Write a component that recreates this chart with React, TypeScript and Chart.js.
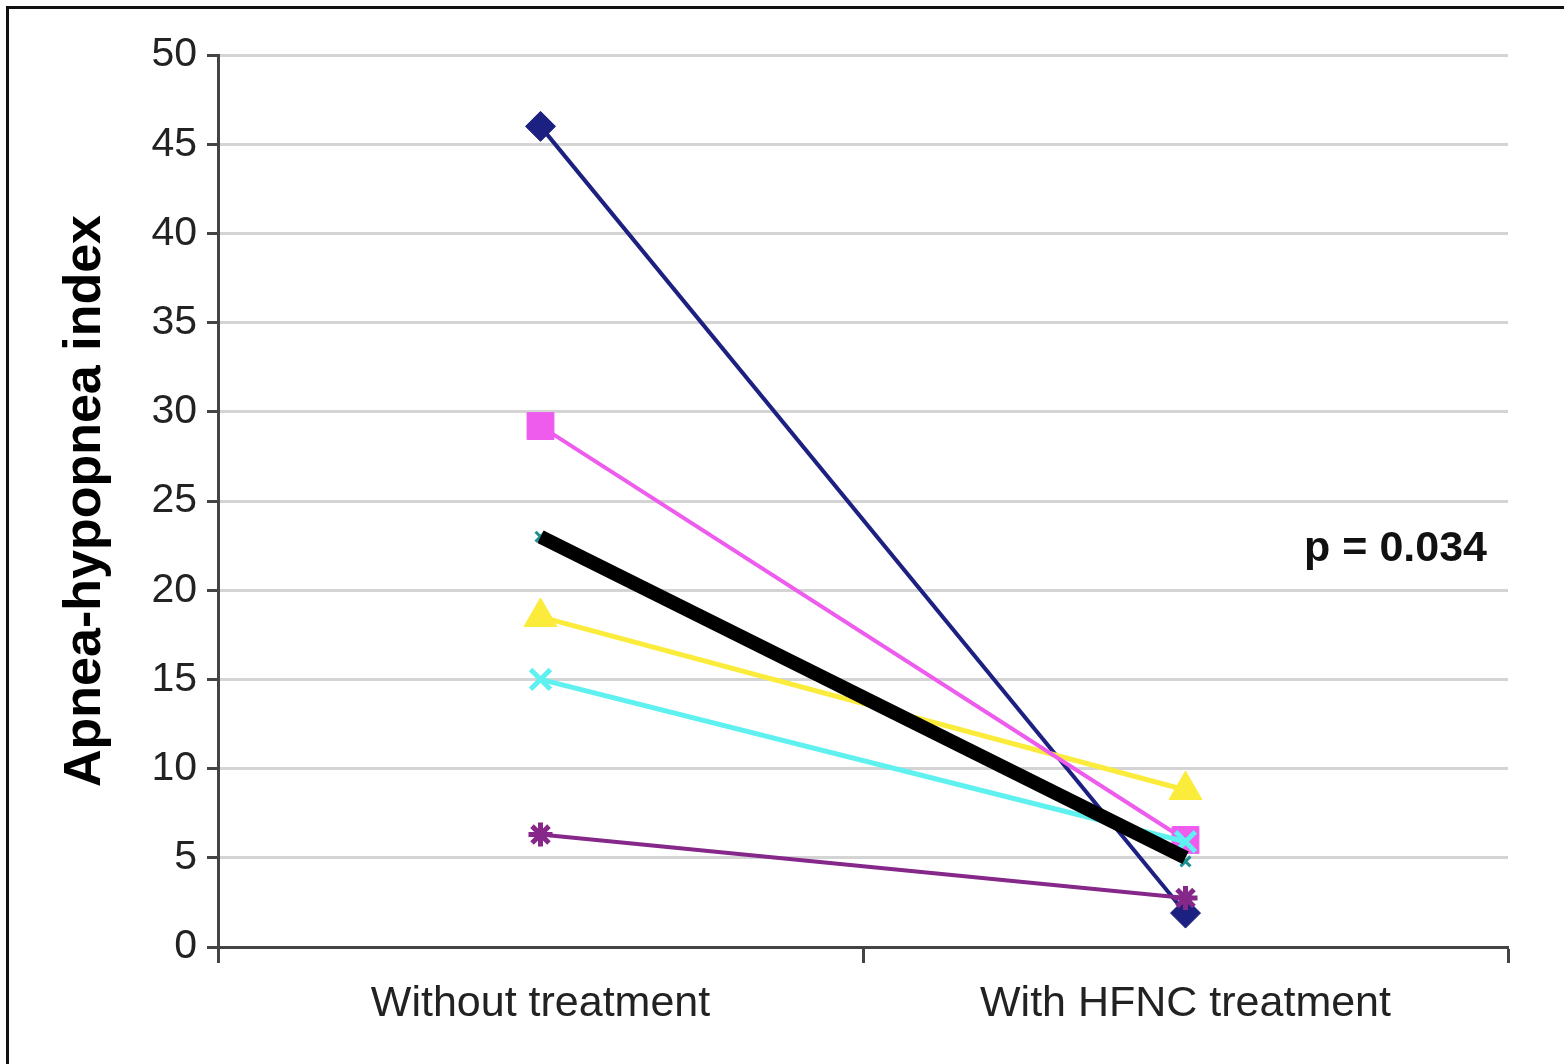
import React, { useEffect, useRef } from "react";
import { Chart, registerables } from "chart.js";

Chart.register(...registerables);

const categories = ["Without treatment", "With HFNC treatment"];
const patientA = [46.0, 1.9];
const patientB = [29.2, 6.0];
const patientC = [23.0, 4.8];
const patientD = [18.5, 8.8];
const patientE = [15.0, 5.9];
const patientF = [6.3, 2.75];
const meanValues = [23.0, 5.0];
const yTicks = [0, 5, 10, 15, 20, 25, 30, 35, 40, 45, 50];
const yTitle = "Apnea-hypopnea index";
const pText = "p = 0.034";

const FONT = "'Liberation Sans Narrow', 'Arial Narrow', 'Liberation Sans', Arial, sans-serif";

const framePlugin = {
  id: "frame",
  afterDraw(chart: any) {
    const ctx = chart.ctx;
    ctx.save();
    ctx.strokeStyle = "#111";
    ctx.lineWidth = 3;
    ctx.beginPath();
    ctx.moveTo(7.5, 1064);
    ctx.lineTo(7.5, 7.5);
    ctx.lineTo(1564, 7.5);
    ctx.stroke();
    const xs = chart.scales.x;
    const ys = chart.scales.y;
    ctx.fillStyle = "#111";
    ctx.font = `bold 43px ${FONT}`;
    ctx.textAlign = "right";
    ctx.textBaseline = "middle";
    ctx.fillText(pText, xs.right - 21, ys.getPixelForValue(22.3));
    ctx.restore();
  },
};

export default function App() {
  const ref = useRef<HTMLCanvasElement | null>(null);
  useEffect(() => {
    if (!ref.current) return;
    const mk = (data: number[], color: string, style: any, radius: number, width: number, borderW: number, order: number) => ({
      data,
      borderColor: color,
      backgroundColor: color,
      pointBackgroundColor: color,
      pointBorderColor: color,
      pointStyle: style,
      pointRadius: radius,
      pointBorderWidth: borderW,
      borderWidth: width,
      tension: 0,
      order,
    });
    const chart = new Chart(ref.current, {
      type: "line",
      data: {
        labels: categories,
        datasets: [
          { ...mk(meanValues, "#000000", "circle", 0, 14, 0, 1), label: "Mean" },
          { ...mk(patientE, "#5ff0f0", "crossRot", 14, 5, 5, 2), label: "E" },
          { ...mk(patientB, "#ee5cee", "rect", 19, 4, 1, 3), label: "B" },
          { ...mk(patientD, "#fbec3c", "triangle", 19, 5, 1, 4), label: "D" },
          { ...mk(patientF, "#86278a", "star", 12, 4, 5, 5), label: "F" },
          { ...mk(patientA, "#1c2080", "rectRot", 15, 4, 1, 6), label: "A" },
          { ...mk(patientC, "#1a9090", "crossRot", 7, 2, 3, 7), label: "C" },
        ],
      },
      options: {
        responsive: false,
        animation: false,
        layout: { padding: { left: 0, right: 56, top: 55, bottom: 0 } },
        plugins: { legend: { display: false }, tooltip: { enabled: false } },
        scales: {
          x: {
            type: "category",
            offset: true,
            grid: {
              offset: true,
              drawOnChartArea: false,
              drawTicks: true,
              tickLength: 16,
              tickWidth: 3,
              tickColor: "#444",
            },
            border: { display: true, color: "#444", width: 3 },
            ticks: {
              color: "#222",
              font: { family: FONT, size: 43 },
              padding: 15,
              maxRotation: 0,
            },
            afterFit(scale: any) {
              scale.height = 117;
            },
          },
          y: {
            min: 0,
            max: 50,
            afterBuildTicks(scale: any) {
              scale.ticks = yTicks.map((v) => ({ value: v }));
            },
            grid: {
              color: "#d4d4d4",
              lineWidth: 3,
              tickColor: "#444",
              tickLength: 11,
              tickWidth: 3,
            },
            border: { display: true, color: "#444", width: 3 },
            ticks: {
              color: "#222",
              font: { family: FONT, size: 41 },
              padding: 10,
            },
            title: {
              display: true,
              text: yTitle,
              color: "#000",
              font: { family: FONT, size: 52, weight: "bold" },
              padding: { top: 54, bottom: 0 },
            },
            afterFit(scale: any) {
              scale.width = 218;
            },
          },
        },
      },
      plugins: [framePlugin],
    } as any);
    return () => chart.destroy();
  }, []);
  return (
    <canvas
      ref={ref}
      width={1564}
      height={1064}
      style={{ position: "fixed", left: 0, top: 0, display: "block", background: "#fff" }}
    />
  );
}
